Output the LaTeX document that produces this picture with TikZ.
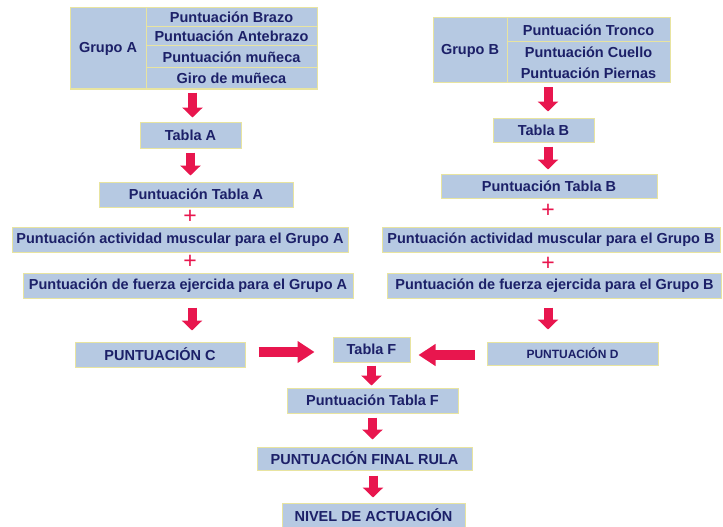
\documentclass[tikz,border=0pt]{standalone}
\usepackage{fontspec}
\setmainfont{Liberation Sans}
\usetikzlibrary{arrows.meta}
\definecolor{boxfill}{RGB}{182,201,226}
\definecolor{boxline}{RGB}{232,228,160}
\definecolor{txt}{RGB}{28,32,104}
\definecolor{arr}{RGB}{232,22,78}
\tikzset{
  cell/.style={rectangle, fill=boxfill, draw=boxline, line width=1pt, inner sep=0pt,
    text=txt, font=\fontsize{14.5}{16}\selectfont\bfseries, align=center},
  plain/.style={cell, font=\fontsize{12}{14}\selectfont\bfseries},
  vflow/.style={arr, line width=9pt, -{Triangle[width=20pt,length=10pt]}},
  hflow/.style={arr, line width=10pt, -{Triangle[width=21pt,length=17pt]}},
  plus/.style={text=arr, font=\fontsize{23}{23}\selectfont, inner sep=0pt}
}
\begin{document}
\begin{tikzpicture}[x=1pt,y=-1pt]
\useasboundingbox (0,0) rectangle (723,527);

% Grupo A table
\node[cell, minimum width=76pt, minimum height=81pt] (ga) at (108,48.5) {Grupo A};
\node[cell, minimum width=171pt, minimum height=19pt] (brazo) at (231.5,17.5) {Puntuación Brazo};
\node[cell, minimum width=171pt, minimum height=19pt] (antebrazo) at (231.5,36.5) {Puntuación Antebrazo};
\node[cell, minimum width=171pt, minimum height=22pt] (muneca) at (231.5,57) {Puntuación muñeca};
\node[cell, minimum width=171pt, minimum height=21pt] (giro) at (231.5,78.5) {Giro de muñeca};

% Grupo B table
\node[cell, minimum width=74pt, minimum height=65pt] (gb) at (470,50.5) {Grupo B};
\node[cell, minimum width=163pt, minimum height=24pt] (tronco) at (588.5,30) {Puntuación Tronco};
\node[cell, minimum width=163pt, minimum height=41pt, font=\fontsize{14.5}{21}\selectfont\bfseries] (cuello) at (588.5,62.5) {Puntuación Cuello\\Puntuación Piernas};

% Left column
\node[cell, minimum width=101pt, minimum height=26pt] (ta) at (190.5,135) {Tabla A};
\node[cell, minimum width=194pt, minimum height=25pt] (pta) at (196,194.5) {Puntuación Tabla A};
\node[plus] (pa1) at (190,217) {+};
\node[cell, minimum width=336pt, minimum height=25pt] (ama) at (180,239.5) {Puntuación actividad muscular para el Grupo A};
\node[plus] (pa2) at (190,262) {+};
\node[cell, minimum width=330pt, minimum height=25pt] (fa) at (188,285.5) {Puntuación de fuerza ejercida para el Grupo A};
\node[cell, minimum width=170pt, minimum height=25pt] (pc) at (160,354.5) {PUNTUACIÓN C};

% Right column
\node[cell, minimum width=101pt, minimum height=24pt] (tb) at (543.5,130) {Tabla B};
\node[cell, minimum width=216pt, minimum height=24pt] (ptb) at (549,186) {Puntuación Tabla B};
\node[plus] (pb1) at (548,211) {+};
\node[cell, minimum width=338pt, minimum height=25pt] (amb) at (551,239.5) {Puntuación actividad muscular para el Grupo B};
\node[plus] (pb2) at (548,264) {+};
\node[cell, minimum width=334pt, minimum height=25pt] (fb) at (554.5,285.5) {Puntuación de fuerza ejercida para el Grupo B};
\node[plain, minimum width=171pt, minimum height=23pt] (pd) at (572.5,353.5) {PUNTUACIÓN D};

% Centre column
\node[cell, minimum width=77pt, minimum height=25pt] (tf) at (371.5,349.5) {Tabla F};
\node[cell, minimum width=171pt, minimum height=25pt] (ptf) at (372.5,400.5) {Puntuación Tabla F};
\node[cell, minimum width=215pt, minimum height=23pt] (rula) at (364.5,458.5) {PUNTUACIÓN FINAL RULA};
\node[cell, minimum width=183pt, minimum height=24pt] (nivel) at (373.5,515) {NIVEL DE ACTUACIÓN};

% Flow arrows
\draw[vflow, shorten <=3pt, shorten >=4pt] ([xshift=2pt]giro.south -| ta.north) -- ([xshift=2pt]ta.north);
\draw[vflow, shorten <=4pt, shorten >=6pt] (ta.south) -- (ta.south |- pta.north);
\draw[vflow, shorten <=9pt, shorten >=11pt] ([xshift=4pt]fa.south) -- ([xshift=4pt]fa.south |- pc.north);

\draw[vflow, shorten <=4pt, shorten >=6pt] ([xshift=4.5pt]cuello.south -| tb.north) -- ([xshift=4.5pt]tb.north);
\draw[vflow, shorten <=4pt, shorten >=4pt] ([xshift=4.5pt]tb.south) -- ([xshift=4.5pt]tb.south |- ptb.north);
\draw[vflow, shorten <=9pt, shorten >=12pt] ([xshift=-6.5pt]fb.south) -- ([xshift=-6.5pt]fb.south |- pd.north);

\draw[vflow, shorten <=3pt, shorten >=2pt] (tf.south) -- (tf.south |- ptf.north);
\draw[vflow, shorten <=4pt, shorten >=7pt] (ptf.south) -- (ptf.south |- rula.north);
\draw[vflow, shorten <=5pt, shorten >=5pt] ([xshift=8.5pt]rula.south) -- ([xshift=8.5pt]rula.south |- nivel.north);

\draw[hflow, shorten <=13pt, shorten >=18pt] ([yshift=2.5pt]pc.east) -- ([yshift=2.5pt]pc.east -| tf.west);
\draw[hflow, shorten <=12pt, shorten >=8pt] ([yshift=-1.5pt]pd.west) -- ([yshift=-1.5pt]pd.west -| tf.east);
\end{tikzpicture}
\end{document}
